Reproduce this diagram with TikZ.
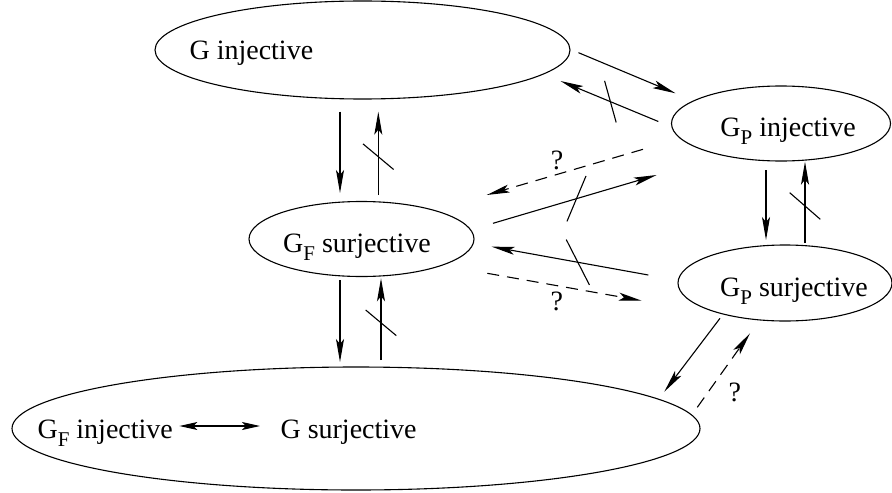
\documentclass[tikz,border=0pt]{standalone}
\usepackage{fontspec}
\setmainfont{Liberation Serif}
\usetikzlibrary{shapes.geometric,arrows.meta,calc}
\newcommand{\gsub}[1]{G\raisebox{-4pt}{\fontsize{10.5}{10.5}\selectfont #1}}

\begin{document}
\begin{tikzpicture}[x=0.5pt, y=-0.5pt, line width=0.55pt,
    every node/.style={font=\fontsize{14}{16}\selectfont, inner sep=0pt},
    oval/.style={draw, ellipse},
    arr/.style={-{Stealth[length=11.5pt,width=4pt,inset=2.5pt]}},
    dasharr/.style={arr, dash pattern=on 6pt off 4pt},
    dblarr/.style={{Stealth[length=9pt,width=4pt,inset=2pt]}-{Stealth[length=9pt,width=4pt,inset=2pt]},
      shorten <=3pt, shorten >=10pt},
    txt/.style={anchor=base, text height=12pt, text depth=0pt}]
  \useasboundingbox (0,0) rectangle (892,492);

  % the five sets
  \node[oval, minimum width=207.5pt, minimum height=49pt] (ginj) at (362.5,50) {};
  \node[oval, minimum width=109.5pt, minimum height=37.5pt] (gpinj) at (781,123.5) {};
  \node[oval, minimum width=112.5pt, minimum height=37.5pt] (gfsur) at (361.5,239) {};
  \node[oval, minimum width=107pt, minimum height=38pt] (gpsur) at (785,283) {};
  \node[oval, minimum width=344pt, minimum height=61.5pt] (bot) at (356,428.5) {};

  \node[txt, anchor=base west] (ginjtxt) at ($(ginj)+(-173.5,10)$) {G injective};
  \node[txt] (gpinjtxt) at ($(gpinj)+(7,13)$) {\gsub{P} injective};
  \node[txt] (gfsurtxt) at ($(gfsur)+(-4.5,13)$) {\gsub{F} surjective};
  \node[txt] (gpsurtxt) at ($(gpsur)+(9,13)$) {\gsub{P} surjective};
  \node[txt, anchor=base west] (gfinj) at ($(bot)+(-319,9.5)$) {\gsub{F} injective};
  \node[txt, anchor=base west] (gsur) at ($(bot)+(-76,9.5)$) {G surjective};
  \draw[dblarr] (gfinj) -- (gsur);

  % top ellipse and G_P injective
  \draw[arr] ($(ginj)+(216,2.7)$) -- ($(gpinj)+(-105.5,-30.2)$);
  \draw[arr] ($(gpinj)+(-122.7,-2)$) -- ($(ginj)+(198,31)$) coordinate[pos=.49] (x2);
  \draw (x2) +(-5.8,-20.8) -- +(5.8,20.8);

  % top ellipse and G_F surjective
  \draw[arr] ($(ginj)+(-22.5,61.7)$) -- ($(gfsur)+(-21.5,-46)$);
  \draw[arr] ($(gfsur)+(16.8,-44)$) -- ($(ginj)+(15.8,61.7)$) coordinate[pos=.46] (x4);
  \draw (x4) +(-15.3,-12.8) -- +(15.3,12.8);

  % G_F surjective and the G_P sets
  \draw[dasharr] ($(gpinj)+(-138,25.8)$) -- ($(gfsur)+(125.2,-44)$)
    node[pos=.55, shift={(0,-14)}] (q1) {?};
  \draw[arr] ($(gfsur)+(131.5,-15.7)$) -- ($(gpinj)+(-124.3,51.5)$) coordinate[pos=.51] (x6);
  \draw (x6) +(9.5,-22.7) -- +(-9.5,22.7);
  \draw[arr] ($(gpsur)+(-136.7,-8)$) -- ($(gfsur)+(130.2,7.7)$) coordinate[pos=.45] (x7);
  \draw (x7) +(-11.6,-22.7) -- +(11.6,22.7);
  \draw[dasharr] ($(gfsur)+(125.8,34.3)$) -- ($(gpsur)+(-143.3,17.7)$)
    node[pos=.45, shift={(0,16)}] (q2) {?};

  % G_F surjective and bottom ellipse
  \draw[arr] ($(gfsur)+(-21.5,41)$) -- ($(bot)+(-16,-66.5)$);
  \draw[arr] ($(bot)+(25,-68.5)$) -- ($(gfsur)+(19.5,39.3)$) coordinate[pos=.455] (x10);
  \draw (x10) +(-15.3,-12.8) -- +(15.3,12.8);

  % G_P injective and G_P surjective
  \draw[arr] ($(gpinj)+(-15,46.5)$) -- ($(gpsur)+(-19,-43)$);
  \draw[arr] ($(gpsur)+(20,-40)$) -- ($(gpinj)+(24,38.2)$) coordinate[pos=.455] (x12);
  \draw (x12) +(-15.3,-13.3) -- +(15.3,13.3);

  % G_P surjective and bottom ellipse
  \draw[arr] ($(gpsur)+(-65,35.3)$) -- ($(bot)+(308.3,-36.8)$);
  \draw[dasharr] ($(bot)+(341.3,-21.2)$) -- ($(gpsur)+(-35,50.3)$)
    node[pos=.2, shift={(27,0)}] (q3) {?};
\end{tikzpicture}
\end{document}
